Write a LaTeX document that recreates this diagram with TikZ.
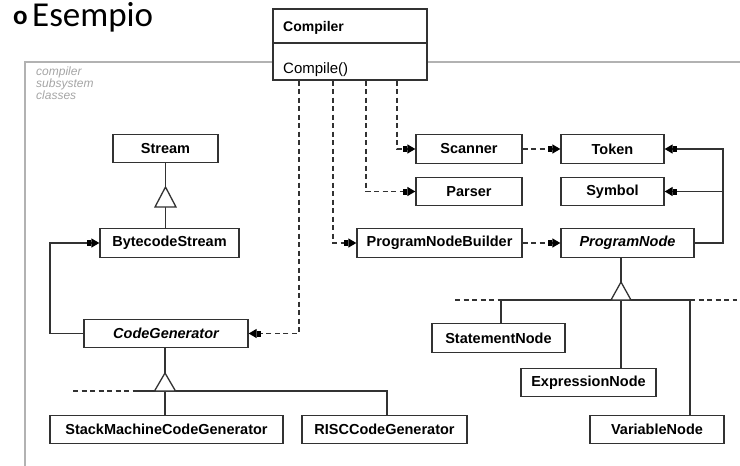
\documentclass[tikz,border=0pt]{standalone}
\usepackage{fontspec}
\setmainfont{Liberation Sans}
\newfontfamily\titlefont{Carlito}
\usetikzlibrary{arrows.meta}
\definecolor{linec}{RGB}{50,50,50}
\definecolor{framec}{RGB}{178,178,178}
\definecolor{notec}{RGB}{165,165,165}
\begin{document}
\begin{tikzpicture}[x=1pt,y=-1pt,
  cls/.style={draw=linec, line width=1.3pt, fill=white, inner sep=0pt,
    font=\fontsize{14.5}{17}\selectfont\bfseries, minimum height=28.5pt},
  abscls/.style={cls, font=\fontsize{14.5}{17}\selectfont\bfseries\itshape},
  conn/.style={draw=linec, line width=1.3pt},
  assoc/.style={conn, -{Rectangle[length=4pt,width=6pt,fill=black,color=black]Triangle[length=8pt,width=9pt,fill=black,color=black]}},
  dep/.style={assoc, dash pattern=on 5pt off 3.5pt},
  hier/.style={conn, dash pattern=on 5pt off 3.5pt},
  gen/.style={conn, fill=white, line join=miter},
  txt/.style={anchor=base west, inner sep=0pt},
]
\useasboundingbox (0,0) rectangle (740,466);

% title
\node[txt, font=\titlefont\bfseries\fontsize{27}{30}\selectfont] (bullet) at (13,24) {o};
\node[txt, font=\titlefont\fontsize{35}{40}\selectfont] (title) at (32,26) {Esempio};

% subsystem frame
\draw[framec, line width=2pt] (740,62) -- (25,62) -- (25,466);
\node[anchor=north west, inner sep=0pt, align=left, text=notec,
  font=\fontsize{12}{12}\selectfont\itshape] (note) at (36,67) {compiler\\subsystem\\classes};

% Compiler class
\node[draw=linec, line width=1.3pt, fill=white, minimum width=154pt,
  minimum height=71pt, inner sep=0pt] (Compiler) at (350,44.5) {};
\draw[conn] (Compiler.west |- 0,43) -- (Compiler.east |- 0,43);
\node[txt, font=\fontsize{14}{16}\selectfont\bfseries] (cname) at (283,31) {Compiler};
\node[txt, font=\fontsize{15}{18}\selectfont] (cop) at (283,73.5) {Compile()};

% classes
\node[cls, minimum width=105pt] (Stream) at (165.5,148.5) {Stream};
\node[cls, minimum width=139pt] (BytecodeStream) at (169.5,243) {BytecodeStream};
\node[abscls, minimum width=164pt] (CodeGenerator) at (166,333.5) {CodeGenerator};
\node[cls, minimum width=233pt] (StackMachineCodeGenerator) at (166.5,429.5) {StackMachineCodeGenerator};
\node[cls, minimum width=165pt] (RISCCodeGenerator) at (384.5,429.5) {RISCCodeGenerator};
\node[cls, minimum width=106pt] (Scanner) at (469,149) {Scanner};
\node[cls, minimum width=103pt] (Token) at (612.5,149) {Token};
\node[cls, minimum width=106pt] (Parser) at (469,191.5) {Parser};
\node[cls, minimum width=103pt] (Symbol) at (612.5,191.5) {Symbol};
\node[cls, minimum width=165pt] (ProgramNodeBuilder) at (439.5,243) {ProgramNodeBuilder};
\node[abscls, minimum width=133pt] (ProgramNode) at (627.5,243) {ProgramNode};
\node[cls, minimum width=133pt] (StatementNode) at (498.5,338) {StatementNode};
\node[cls, minimum width=135pt] (ExpressionNode) at (588.5,382.5) {ExpressionNode};
\node[cls, minimum width=134pt] (VariableNode) at (657,429.5) {VariableNode};

% Stream generalization
\coordinate (g1) at (165.5,187);
\draw[conn] (Stream.south) -- (g1);
\draw[conn] (g1 |- 0,207) -- (g1 |- BytecodeStream.north);
\draw[gen] (g1) -- ++(-10.5,20) -- ++(21,0) -- cycle;

% CodeGenerator generalization
\coordinate (g2) at (165,373);
\coordinate (h2) at (165,391);
\draw[conn] (CodeGenerator.south -| g2) -- (g2);
\draw[hier] (73,391) -- (135,391);
\draw[conn] (135,391) -- (387,391) -- (RISCCodeGenerator.north -| 387,0);
\draw[conn] (h2) -- (StackMachineCodeGenerator.north -| h2);
\draw[gen] (g2) -- ++(-10.5,18) -- ++(21,0) -- cycle;

% ProgramNode generalization
\coordinate (g3) at (621,282);
\draw[conn] (ProgramNode.south -| g3) -- (g3);
\draw[hier] (455,300) -- (500,300);
\draw[conn] (500,300) -- (690,300);
\draw[hier] (690,300) -- (737,300);
\draw[conn] (501,300) -- (StatementNode.north -| 501,0);
\draw[conn] (621,300) -- (ExpressionNode.north -| 621,0);
\draw[conn] (690,300) -- (VariableNode.north -| 690,0);
\draw[gen] (g3) -- ++(-10,18) -- ++(20,0) -- cycle;

% dependencies from Compiler
\draw[dep] (Compiler.south -| 397,0) |- (Scanner.west);
\draw[dep] (Compiler.south -| 366,0) |- (Parser.west);
\draw[dep] (Compiler.south -| 333,0) |- (ProgramNodeBuilder.west);
\draw[dep] (Compiler.south -| 299,0) |- (CodeGenerator.east);
\draw[dep] (Scanner.east) -- (Token.west);
\draw[dep] (ProgramNodeBuilder.east) -- (ProgramNode.west);

% associations
\draw[assoc] (ProgramNode.east) -- (ProgramNode.east -| 723,0) |- (Token.east);
\draw[assoc] (Symbol.east -| 723,0) -- (Symbol.east);
\draw[assoc] (CodeGenerator.west) -- (CodeGenerator.west -| 50,0) |- (BytecodeStream.west);
\end{tikzpicture}
\end{document}
